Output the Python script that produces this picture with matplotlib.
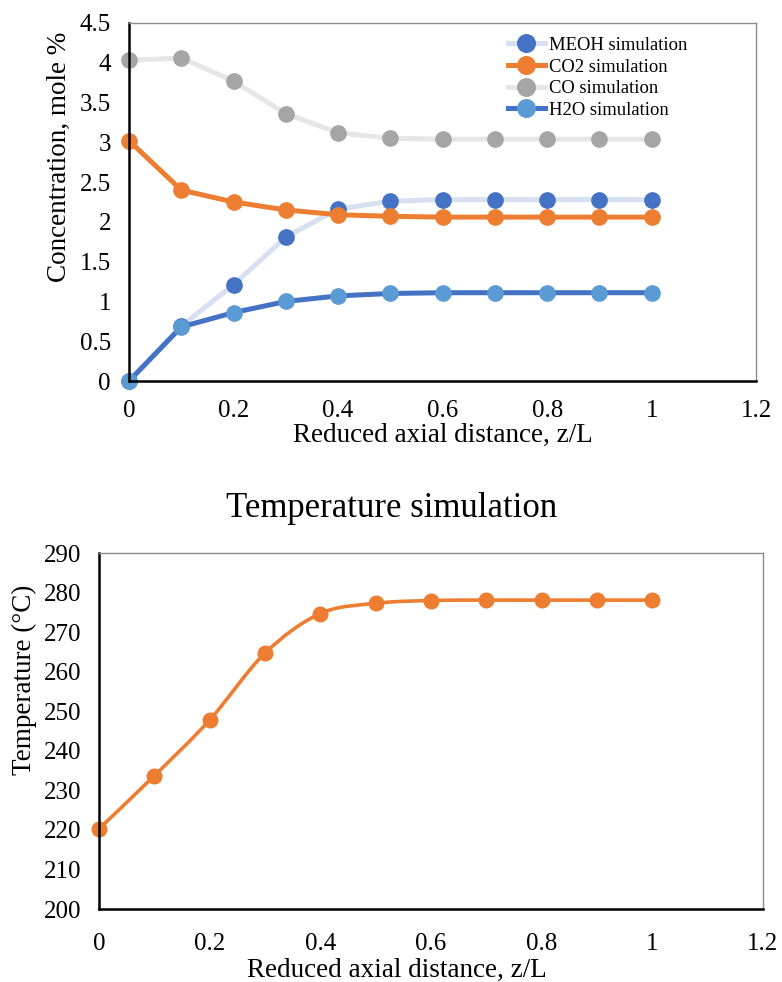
import matplotlib
matplotlib.use('Agg')
import matplotlib.pyplot as plt
from matplotlib.path import Path
from matplotlib.patches import PathPatch

plt.rcParams['font.family'] = ['Liberation Serif', 'DejaVu Serif']

# Reduced axial distance
z = [0, 0.1, 0.2, 0.3, 0.4, 0.5, 0.6, 0.7, 0.8, 0.9, 1.0]

# Concentrations, mole %
meoh = [0.0, 0.69, 1.21, 1.81, 2.16, 2.26, 2.28, 2.28, 2.28, 2.28, 2.28]
co2 = [3.02, 2.40, 2.25, 2.15, 2.09, 2.07, 2.06, 2.06, 2.06, 2.06, 2.06]
co = [4.03, 4.06, 3.77, 3.36, 3.12, 3.05, 3.04, 3.04, 3.04, 3.04, 3.04]
h2o = [0.0, 0.68, 0.86, 1.00, 1.07, 1.10, 1.11, 1.11, 1.11, 1.11, 1.11]

# Temperature, C
temp = [220.3, 233.7, 247.8, 264.7, 274.7, 277.3, 278.0, 278.1, 278.1, 278.1, 278.1]

xticks = [0, 0.2, 0.4, 0.6, 0.8, 1.0, 1.2]
xticklabels = ['0', '0.2', '0.4', '0.6', '0.8', '1', '1.2']
yticks_c = [0, 0.5, 1, 1.5, 2, 2.5, 3, 3.5, 4, 4.5]
yticklabels_c = ['0', '0.5', '1', '1.5', '2', '2.5', '3', '3.5', '4', '4.5']
yticks_t = [200, 210, 220, 230, 240, 250, 260, 270, 280, 290]


def style_axes(ax):
    for s in ['top', 'right']:
        ax.spines[s].set_color('#8c8c8c')
        ax.spines[s].set_linewidth(1.0)
    for s in ['left', 'bottom']:
        ax.spines[s].set_color('black')
        ax.spines[s].set_linewidth(1.8)
    ax.tick_params(length=0, labelsize=18, pad=13)


def smooth_path(xs, ys):
    # excel-like smoothed line: cubic bezier through each point
    n = len(xs)
    verts = [(xs[0], ys[0])]
    codes = [Path.MOVETO]
    for i in range(n - 1):
        i0 = max(i - 1, 0)
        i3 = min(i + 2, n - 1)
        c1 = (xs[i] + (xs[i + 1] - xs[i0]) / 6, ys[i] + (ys[i + 1] - ys[i0]) / 6)
        c2 = (xs[i + 1] - (xs[i3] - xs[i]) / 6, ys[i + 1] - (ys[i3] - ys[i]) / 6)
        verts += [c1, c2, (xs[i + 1], ys[i + 1])]
        codes += [Path.CURVE4] * 3
    return Path(verts, codes)


fig = plt.figure(figsize=(7.82, 9.82), dpi=100)

# ---- concentration chart ----
ax1 = fig.add_axes([0.165, 0.612, 0.802, 0.3646])
ax1.plot(z, meoh, color='#d6e0f1', lw=3.6, marker='o', ms=11,
         mfc='#4472c4', mec='#4472c4', label='MEOH simulation', clip_on=False)
ax1.plot(z, co2, color='#ed7d31', lw=3.6, marker='o', ms=11,
         mfc='#ed7d31', mec='#ed7d31', label='CO2 simulation', clip_on=False)
ax1.plot(z, co, color='#e7e6e6', lw=3.6, marker='o', ms=11,
         mfc='#a5a5a5', mec='#a5a5a5', label='CO simulation', clip_on=False)
ax1.plot(z, h2o, color='#4472c4', lw=3.6, marker='o', ms=11,
         mfc='#5b9bd5', mec='#5b9bd5', label='H2O simulation', clip_on=False)
ax1.set_xlim(0, 1.2)
ax1.set_ylim(0, 4.5)
ax1.set_xticks(xticks)
ax1.set_xticklabels(xticklabels)
ax1.set_yticks(yticks_c)
ax1.set_yticklabels(yticklabels_c)
style_axes(ax1)
ax1.tick_params(axis='x', pad=14)
ax1.set_xlabel('Reduced axial distance, z/L', fontsize=19.5)
ax1.xaxis.set_label_coords(0.5, -0.117)
ax1.set_ylabel('Concentration, mole %', fontsize=19.5)
ax1.yaxis.set_label_coords(-0.091, 0.626)
ax1.legend(loc='upper left', bbox_to_anchor=(0.592, 0.982), frameon=False,
           fontsize=13.4, handlelength=2.0, handletextpad=0.2, labelspacing=0.25,
           borderaxespad=0, markerscale=1.15)

# ---- temperature chart ----
ax2 = fig.add_axes([0.1266, 0.0743, 0.849, 0.3625])
ax2.add_patch(PathPatch(smooth_path(z, temp), fill=False, edgecolor='#ed7d31',
                        lw=2.6, capstyle='round'))
ax2.plot(z, temp, ls='none', marker='o', ms=10.5, mfc='#ed7d31', mec='#ed7d31',
         clip_on=False)
ax2.set_xlim(0, 1.2)
ax2.set_ylim(200, 290)
ax2.set_xticks(xticks)
ax2.set_xticklabels(xticklabels)
ax2.set_yticks(yticks_t)
style_axes(ax2)
ax2.tick_params(axis='x', pad=17)
ax2.set_title('Temperature simulation', fontsize=25, pad=26, x=0.44)
ax2.set_xlabel('Reduced axial distance, z/L', fontsize=19.5)
ax2.xaxis.set_label_coords(0.449, -0.138)
ax2.set_ylabel('Temperature (°C)', fontsize=19.5)
ax2.yaxis.set_label_coords(-0.093, 0.643)

fig.savefig('out.png', dpi=100)
